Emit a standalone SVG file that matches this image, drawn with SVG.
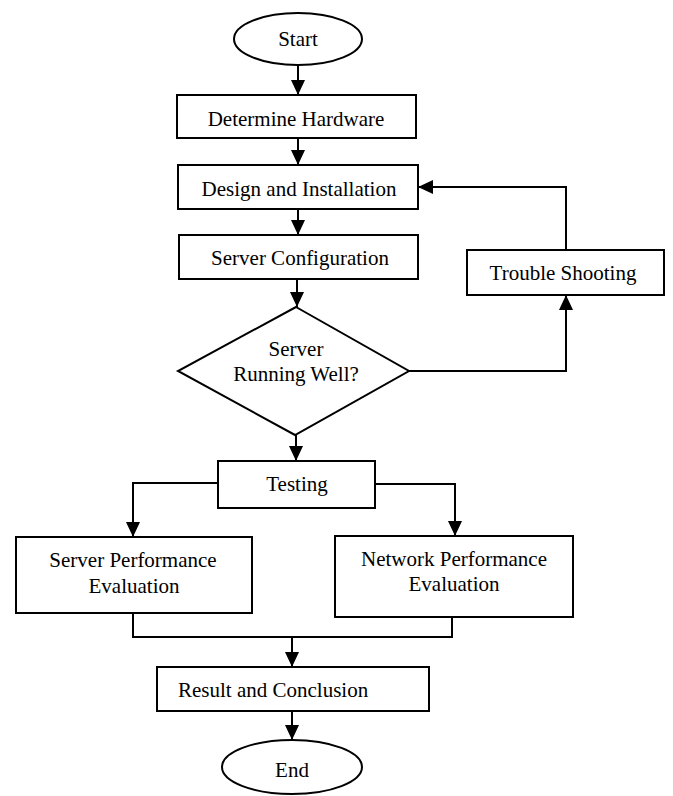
<svg xmlns="http://www.w3.org/2000/svg" width="673" height="796" viewBox="0 0 673 796">
<style>
.n{fill:#fff;stroke:#000;stroke-width:2}
.t{font-family:"Liberation Serif","Times New Roman",serif;font-size:21px;fill:#000;text-anchor:middle}
.c{fill:none;stroke:#000;stroke-width:2}
</style>
<defs>
<marker id="ah" markerUnits="userSpaceOnUse" markerWidth="15" markerHeight="14" refX="15" refY="7" orient="auto" viewBox="0 0 15 14">
<path d="M0,0 L15,7 L0,14 z" fill="#000"/>
</marker>
</defs>
<rect width="673" height="796" fill="#fff"/>
<g id="connectors">
<path class="c" d="M298,65 V95" marker-end="url(#ah)"/>
<path class="c" d="M298,138 V165" marker-end="url(#ah)"/>
<path class="c" d="M298,209 V235" marker-end="url(#ah)"/>
<path class="c" d="M297,279 V307" marker-end="url(#ah)"/>
<path class="c" d="M409,371 H566 V295" marker-end="url(#ah)"/>
<path class="c" d="M566,250 V187 H418" marker-end="url(#ah)"/>
<path class="c" d="M296,435 V461" marker-end="url(#ah)"/>
<path class="c" d="M218,483 H133 V537" marker-end="url(#ah)"/>
<path class="c" d="M375,484 H455 V536" marker-end="url(#ah)"/>
<path class="c" d="M133,613 V637 H452 V617"/>
<path class="c" d="M292,637 V667" marker-end="url(#ah)"/>
<path class="c" d="M292,711 V740" marker-end="url(#ah)"/>
</g>
<g id="start">
<ellipse class="n" cx="298" cy="39" rx="64" ry="26"/>
<text class="t" x="298" y="46">Start</text>
</g>
<g id="determine-hardware">
<rect class="n" x="177" y="95" width="239" height="43"/>
<text class="t" x="296" y="126">Determine Hardware</text>
</g>
<g id="design-installation">
<rect class="n" x="178" y="165" width="240" height="44"/>
<text class="t" x="299" y="196">Design and Installation</text>
</g>
<g id="server-configuration">
<rect class="n" x="179" y="235" width="239" height="44"/>
<text class="t" x="300" y="265">Server Configuration</text>
</g>
<g id="server-running-well">
<polygon class="n" points="296,307 409,371 295,435 178,371"/>
<text class="t" x="296" y="356">Server</text>
<text class="t" x="296" y="381">Running Well?</text>
</g>
<g id="trouble-shooting">
<rect class="n" x="467" y="250" width="197" height="45"/>
<text class="t" x="563" y="280">Trouble Shooting</text>
</g>
<g id="testing">
<rect class="n" x="218" y="461" width="157" height="47"/>
<text class="t" x="297" y="491">Testing</text>
</g>
<g id="server-performance">
<rect class="n" x="16" y="537" width="236" height="76"/>
<text class="t" x="133" y="567">Server Performance</text>
<text class="t" x="134" y="593">Evaluation</text>
</g>
<g id="network-performance">
<rect class="n" x="335" y="536" width="238" height="81"/>
<text class="t" x="454" y="566">Network Performance</text>
<text class="t" x="454" y="591">Evaluation</text>
</g>
<g id="result-conclusion">
<rect class="n" x="157" y="667" width="272" height="44"/>
<text class="t" x="178" y="697" style="text-anchor:start">Result and Conclusion</text>
</g>
<g id="end">
<ellipse class="n" cx="292" cy="767" rx="70" ry="27"/>
<text class="t" x="292" y="777">End</text>
</g>
</svg>
